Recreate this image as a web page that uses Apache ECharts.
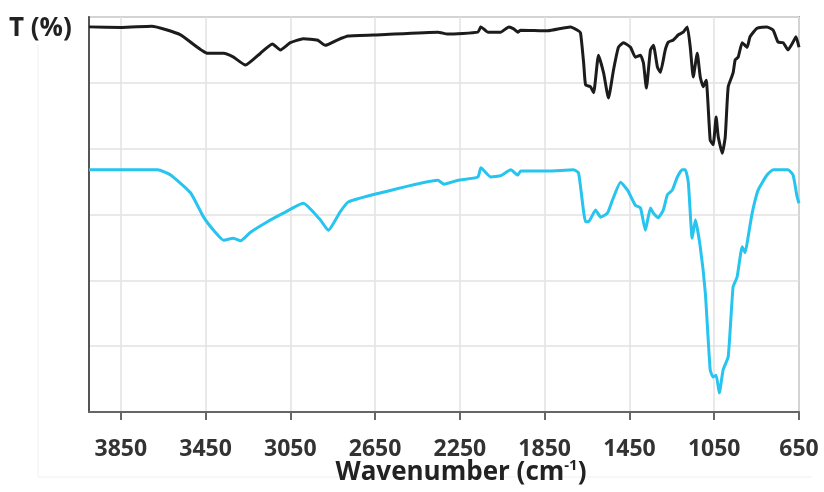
<!DOCTYPE html>
<html>
<head>
<meta charset="utf-8">
<script src="https://cdn.jsdelivr.net/npm/echarts@6/dist/echarts.min.js"></script>
<style>
html,body{margin:0;padding:0;background:#fff;}
#c{width:824px;height:492px;}
</style>
</head>
<body>
<div id="c"></div>
<script>
// Wavenumber (cm-1) and transmittance (arbitrary offset units)
var blackWavenumber = [4000,3845,3704,3568,3441,3365,3318,3262,3191,3135,3097,3050,2989,2923,2885,2829,2777,2622,2354,2307,2165,2151,2118,2057,2019,1996,1977,1963,1836,1728,1695,1681,1666,1657,1634,1619,1596,1572,1549,1525,1502,1478,1445,1422,1398,1384,1370,1351,1337,1318,1304,1281,1266,1243,1219,1196,1177,1163,1149,1130,1116,1102,1088,1069,1055,1041,1031,1012,998,984,961,951,937,918,895,881,848,801,772,749,725,702,678,664,650];
var blackT = [58.5,58.4,58.6,57.3,54.5,54.5,53.9,52.7,54.5,55.9,55.0,56.1,56.7,56.5,55.7,56.5,57.1,57.3,57.7,57.4,57.7,58.5,57.7,57.7,58.5,58.2,57.7,58.0,57.9,58.5,58.0,57.6,53.0,49.7,49.4,48.5,54.2,51.5,47.7,52.0,55.4,56.1,55.4,53.9,54.2,53.0,49.2,55.0,55.7,52.4,51.6,55.0,56.2,56.5,57.3,57.7,58.5,55.4,50.9,54.5,50.9,49.4,50.4,41.3,40.6,44.8,41.8,39.3,41.8,49.4,51.5,53.5,53.9,56.1,55.4,57.0,58.3,58.5,58.0,56.2,56.1,55.0,56.2,57.0,55.4];

var blueWavenumber = [4000,3676,3615,3521,3459,3412,3365,3318,3285,3238,3158,3083,2989,2909,2871,2815,2777,2622,2354,2325,2259,2165,2151,2104,2057,2010,1977,1963,1836,1714,1690,1657,1643,1610,1586,1554,1530,1492,1459,1422,1398,1375,1351,1337,1314,1290,1271,1248,1224,1201,1186,1172,1154,1139,1116,1092,1069,1055,1041,1026,1008,984,961,942,918,904,890,871,843,801,772,702,678,659,650];
var blueT = [36.8,36.8,36.0,33.3,29.6,27.6,26.1,26.4,26.0,27.3,28.9,30.2,31.7,29.2,27.6,30.4,31.9,33.3,35.2,34.6,35.2,35.7,37.1,35.7,35.9,36.8,36.0,36.6,36.6,36.8,36.3,28.9,28.9,30.7,29.6,30.2,32.2,34.9,33.7,31.4,31.0,27.6,31.0,30.2,29.5,30.7,33.0,33.7,35.7,36.8,36.8,34.8,26.4,29.2,25.1,18.1,6.4,5.3,5.6,2.9,6.4,8.4,19.0,20.5,25.1,24.2,26.6,30.2,33.7,36.0,36.8,36.8,36.0,32.7,31.7];

var xMin = 650, xMax = 4000, xStep = 400;
var yMin = 0, yMax = 60, yStep = 10;
var xTitle = 'Wavenumber (cm{sup|-1})';
var yTitle = 'T (%)';

function pairs(xs, ys){ return xs.map(function(x,i){ return [x, ys[i]]; }); }

var chart = echarts.init(document.getElementById('c'), null, {renderer:'canvas'});
chart.setOption({
  animation:false,
  backgroundColor:'#ffffff',
  grid:{left:89,right:25,top:17,bottom:80,outerBoundsMode:'none',containLabel:false,show:true,borderColor:'#a8a8a8',borderWidth:2,backgroundColor:'transparent'},
  graphic:[
    {type:'line',shape:{x1:38,y1:45,x2:38,y2:477},style:{stroke:'#f0f0f0',lineWidth:1},silent:true,z:-1},
    {type:'line',shape:{x1:38,y1:477,x2:812,y2:477},style:{stroke:'#f0f0f0',lineWidth:1},silent:true,z:-1},
    {type:'text',left:9,top:16,style:{text:yTitle,font:'bold 26px "Open Sans"',fill:'#222'}}
  ],
  xAxis:{
    type:'value',min:xMin,max:xMax,interval:xStep,inverse:true,
    name:xTitle,nameLocation:'middle',nameGap:46,nameMoveOverlap:false,
    nameTextStyle:{fontFamily:'Open Sans',fontWeight:'bold',fontSize:26,color:'#222',padding:[0,0,0,34],
      rich:{sup:{fontFamily:'Open Sans',fontWeight:'bold',fontSize:15,color:'#222',verticalAlign:'top',padding:[0,0,14,0]}}},
    axisLine:{show:true,lineStyle:{color:'#666',width:2}},
    axisTick:{show:true,inside:false,length:8,lineStyle:{color:'#666',width:2}},
    axisLabel:{show:true,showMaxLabel:false,margin:26,fontFamily:'Open Sans',fontWeight:'bold',fontSize:23,color:'#333',
      formatter:function(v){ return String(v); }},
    splitLine:{show:true,lineStyle:{color:'#e2e2e2',width:1.5}}
  },
  yAxis:{
    type:'value',min:yMin,max:yMax,interval:yStep,
    axisLine:{show:true,onZero:false,lineStyle:{color:'#555',width:2}},
    axisTick:{show:false},axisLabel:{show:false},
    splitLine:{show:true,lineStyle:{color:'#e2e2e2',width:1.5}}
  },
  series:[
    {type:'line',name:'black',data:pairs(blackWavenumber,blackT),showSymbol:false,smooth:0.15,
     lineStyle:{color:'#1c1c1c',width:3},z:3},
    {type:'line',name:'blue',data:pairs(blueWavenumber,blueT),showSymbol:false,smooth:0.15,
     lineStyle:{color:'#26c4ee',width:3},z:3}
  ]
});
</script>
</body>
</html>
